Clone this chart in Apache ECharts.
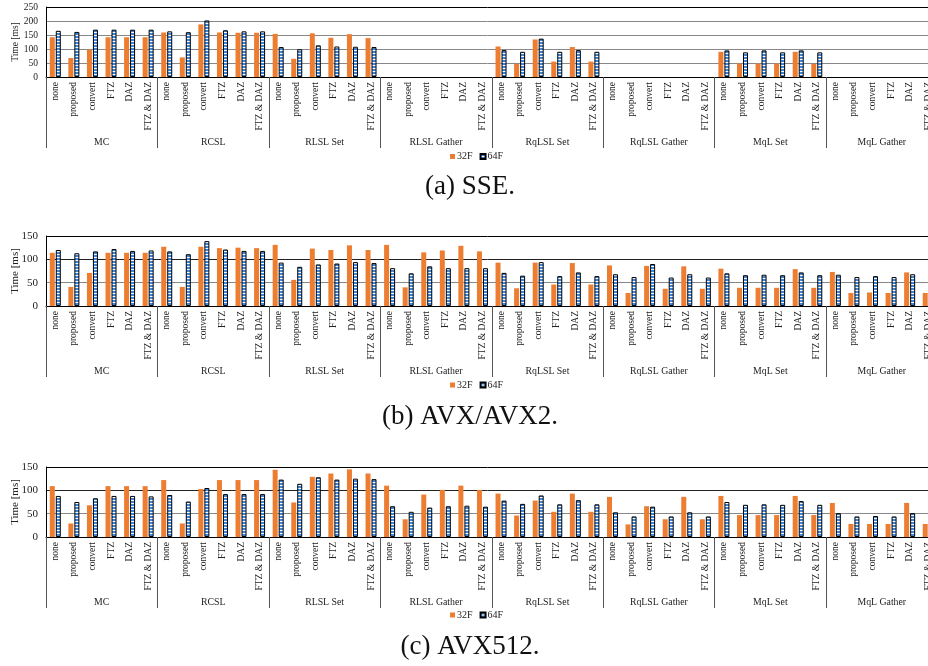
<!DOCTYPE html>
<html>
<head>
<meta charset="utf-8">
<script src="https://cdn.jsdelivr.net/npm/echarts@6/dist/echarts.min.js"></script>
<style>
html,body{margin:0;padding:0;background:#fff;}
#chart{width:928px;height:666px;}
</style>
</head>
<body>
<div id="chart"></div>
<script>
const groups = ['MC','RCSL','RLSL Set','RLSL Gather','RqLSL Set','RqLSL Gather','MqL Set','MqL Gather'];
const subLabels = ['none','proposed','convert','FTZ','DAZ','FTZ & DAZ'];
const seriesNames = ['32F','64F'];
const captions = ['(a) SSE.','(b) AVX/AVX2.','(c) AVX512.'];
const yTicksSSE = [0,50,100,150,200,250];
const yTicksAVX = [0,50,100,150];

const sse32 = [142,68,98,142,142,142, 159,70,188,159,158,158, 154,65,156,140,153,139, null,null,null,null,null,null,
  109,47,134,55,107,55, null,null,null,null,null,null, 90,48,48,48,90,47, null,null,null,null,null,null];
const sse64 = [165,161,169,169,169,169, 163,160,202,167,163,163, 107,99,113,109,108,107, null,null,null,null,null,null,
  96,90,137,90,96,90, null,null,null,null,null,null, 95,88,95,88,95,88, null,null,null,null,null,null];
const avx32 = [114,41,71,114,114,114, 127,41,127,124,125,124, 131,56,123,120,130,120, 131,40,115,119,129,117,
  93,38,93,46,92,46, 87,28,86,37,85,37, 80,39,39,39,79,39, 73,28,29,28,72,28];
const avx64 = [120,113,117,122,118,119, 117,111,139,121,118,118, 93,84,89,91,94,92, 81,70,85,81,81,81,
  71,65,94,64,72,64, 68,62,90,61,68,61, 70,66,67,66,72,66, 67,62,64,62,68,62];
const avx512_32 = [109,29,68,109,109,109, 122,29,103,122,122,122, 144,74,129,136,145,136, 110,38,91,101,110,101,
  93,46,78,54,93,54, 86,27,66,38,86,38, 88,47,47,47,88,47, 73,28,28,28,73,28];
const avx512_64 = [88,75,83,88,88,87, 90,76,105,92,92,92, 123,114,128,123,125,124, 66,54,63,66,67,65,
  78,71,89,70,79,70, 53,44,65,44,53,44, 75,69,70,69,77,69, 51,44,45,44,51,44];

const categories = [];
groups.forEach(g => subLabels.forEach(s => categories.push(g + '|' + s)));

const panelData = [
  {v32: sse32, v64: sse64, ticks: yTicksSSE},
  {v32: avx32, v64: avx64, ticks: yTicksAVX},
  {v32: avx512_32, v64: avx512_64, ticks: yTicksAVX}
];

// layout (styles, not data)
const layout = [
  {top: 7, zeroY: 77, yFont: 9.5, nameGap: 26, legendY: 151.5, capY: 187, splitColors: ['#000','#888','#888','#888','#888','#000']},
  {top: 236, zeroY: 306, yFont: 11, nameGap: 25, legendY: 380, capY: 416.5, splitColors: ['#000','#888','#222','#000']},
  {top: 467, zeroY: 537, yFont: 11, nameGap: 25, legendY: 610, capY: 647, splitColors: ['#000','#888','#222','#000']}
];

function makePattern() {
  const c = document.createElement('canvas');
  c.width = 4; c.height = 3;
  const ctx = c.getContext('2d');
  ctx.fillStyle = '#ffffff';
  ctx.fillRect(0, 0, 4, 3);
  ctx.fillStyle = '#3f87d6';
  ctx.fillRect(0, 0, 4, 2);
  return c;
}
const pattern = makePattern();

const FONT = '"Liberation Serif", "Times New Roman", serif';
const grid = [], xAxis = [], yAxis = [], series = [], legend = [], graphic = [];

panelData.forEach((p, i) => {
  const L = layout[i];
  const maxV = p.ticks[p.ticks.length - 1];
  grid.push({left: 46, width: 891.5, top: L.top, height: L.zeroY - L.top,
    containLabel: false, outerBoundsMode: 'none'});
  xAxis.push({
    type: 'category', gridIndex: i, position: 'bottom', offset: 0,
    data: categories,
    axisLine: {show: true, lineStyle: {color: '#000', width: 1}},
    axisTick: {show: false},
    axisLabel: {interval: 0, rotate: 90, margin: 5, fontFamily: FONT, fontSize: 9.5, color: '#222',
      formatter: v => v.split('|')[1]},
    splitLine: {show: false}
  });
  xAxis.push({
    type: 'category', gridIndex: i, position: 'bottom', offset: 0,
    data: groups,
    axisLine: {show: false},
    axisTick: {show: true, interval: 0, length: 71, lineStyle: {color: '#555', width: 1}},
    axisLabel: {interval: 0, margin: 60, fontFamily: FONT, fontSize: 9.8, color: '#222'},
    splitLine: {show: false}
  });
  yAxis.push({
    type: 'value', gridIndex: i, min: 0, max: maxV, interval: 50,
    name: 'Time [ms]', nameLocation: 'middle', nameGap: L.nameGap, nameMoveOverlap: false,
    nameTextStyle: {fontFamily: FONT, fontSize: L.yFont, color: '#222'},
    axisLine: {show: true, lineStyle: {color: '#000', width: 1}},
    axisTick: {show: false},
    axisLabel: {margin: 8, fontFamily: FONT, fontSize: L.yFont, color: '#222'},
    splitLine: {show: true, lineStyle: {color: L.splitColors, width: 1}}
  });
  series.push({
    name: seriesNames[0], type: 'bar', xAxisIndex: 2 * i, yAxisIndex: i,
    data: p.v32, barWidth: 5, barGap: '20%',
    itemStyle: {color: '#ED7D31'}, silent: true, animation: false
  });
  series.push({
    name: seriesNames[1], type: 'bar', xAxisIndex: 2 * i, yAxisIndex: i,
    data: p.v64, barWidth: 5, barGap: '20%',
    itemStyle: {color: {image: pattern, repeat: 'repeat'}, borderColor: '#000', borderWidth: 1},
    silent: true, animation: false
  });
  legend.push({
    left: 450, top: L.legendY, padding: 0, itemGap: 7, itemWidth: 5, itemHeight: 5,
    icon: 'rect', data: seriesNames, selectedMode: false,
    textStyle: {fontFamily: FONT, fontSize: 10, color: '#222', padding: [0, 0, 0, -3]}
  });
  graphic.push({
    type: 'text', x: 470, y: L.capY,
    style: {text: captions[i], font: '27px ' + FONT, fill: '#111', align: 'center', verticalAlign: 'middle'}
  });
});

const chart = echarts.init(document.getElementById('chart'), null, {renderer: 'canvas'});
chart.setOption({
  animation: false,
  backgroundColor: '#fff',
  grid, xAxis, yAxis, series, legend, graphic
});
</script>
</body>
</html>
